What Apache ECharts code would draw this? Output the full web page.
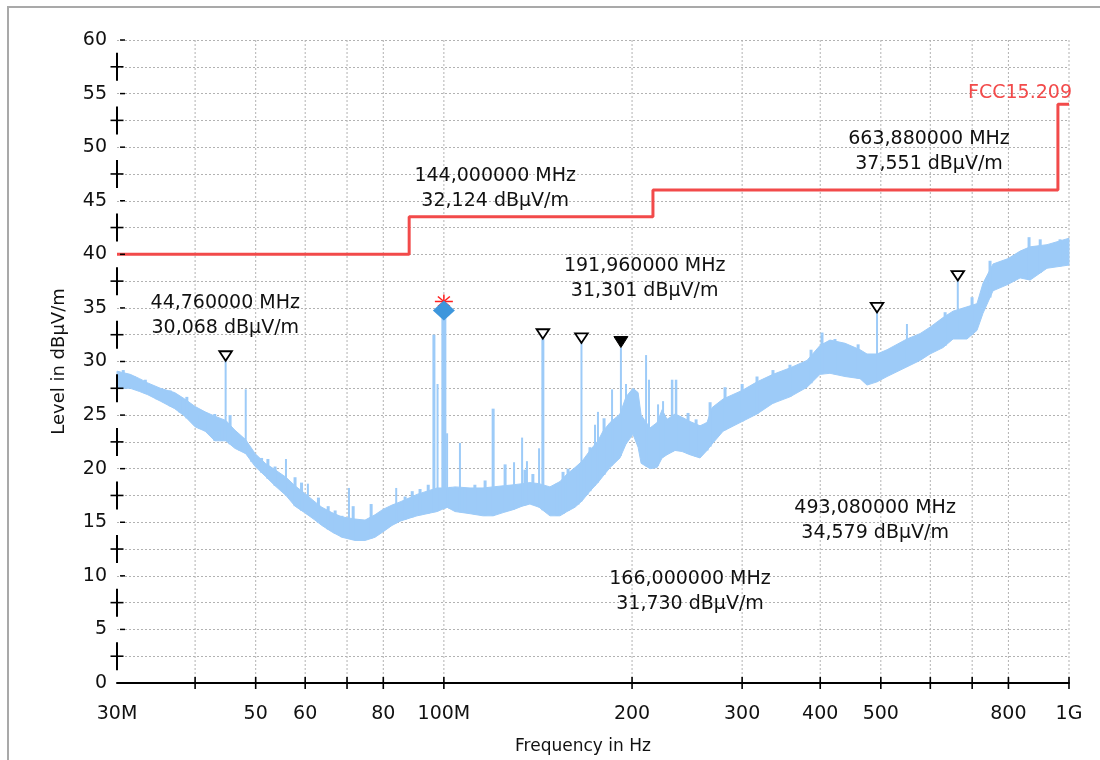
<!DOCTYPE html>
<html><head><meta charset="utf-8">
<script src="https://cdn.jsdelivr.net/npm/echarts@6/dist/echarts.min.js"></script>
<style>html,body{margin:0;padding:0;background:#fff}#c{width:1100px;height:760px}</style>
</head><body><div id="c"></div>
<script>
// ---------- data ----------
// noise band of the measured trace: frequency (MHz), typical top and bottom level (dBµV/m)
const traceFreq  = [30, 31.5, 32.6, 33.6, 35.2, 37.1, 38.5, 40.0, 41.5, 43.0, 44.8, 46.3, 48.2, 49.9, 51.8, 53.7, 55.9, 57.8, 60.2, 62.2, 63.8, 66.2, 68.7, 72.1, 74.8, 77.6, 79.9, 82.6, 85.1, 88.3, 90.6, 94.0, 97.5, 101.2, 104.2, 110.1, 115.5, 119.9, 124.4, 129.5, 133.4, 137.3, 142.0, 147.8, 153.4, 157.4, 162.1, 166.4, 171.3, 176.4, 179.7, 184.4, 191.3, 195.6, 200.7, 204.5, 206.8, 213.7, 219.3, 223.4, 227.5, 234.3, 240.5, 247.6, 256.9, 263.6, 268.6, 279.7, 300, 316.9, 336.1, 357.8, 381.0, 399.7, 414.6, 438.3, 463.2, 475.2, 493.1, 511.7, 550.5, 577.7, 599.3, 628.8, 652.5, 686.7, 712.5, 728.5, 755.9, 799.1, 835.2, 866.6, 922.2, 1000];
const traceUpper = [29.1, 28.8, 28.4, 28.0, 27.5, 27.1, 26.5, 25.8, 25.3, 24.9, 24.5, 23.6, 22.7, 21.4, 20.5, 19.9, 19.2, 18.4, 17.6, 16.9, 16.4, 15.9, 15.5, 15.3, 15.2, 15.7, 16.2, 16.6, 16.9, 17.3, 17.6, 17.9, 18.2, 18.2, 18.3, 18.2, 18.2, 18.3, 18.4, 18.5, 18.6, 18.7, 18.6, 18.3, 18.8, 19.5, 20.1, 20.7, 21.7, 22.6, 23.5, 24.3, 25.1, 26.7, 27.5, 27.1, 25.0, 23.8, 24.3, 25.5, 24.6, 25.1, 24.8, 24.4, 24.0, 24.3, 25.7, 26.5, 27.3, 28.1, 28.8, 29.4, 30.1, 31.5, 32.0, 31.7, 31.1, 30.7, 30.7, 31.1, 32.1, 32.6, 33.2, 34.1, 34.7, 35.1, 35.4, 37.3, 39.1, 39.6, 40.3, 40.7, 40.9, 41.5];
const traceLower = [27.5, 27.5, 27.2, 26.9, 26.3, 25.6, 24.9, 23.9, 23.5, 22.6, 22.6, 21.9, 21.4, 20.2, 19.3, 18.4, 17.5, 16.5, 15.8, 15.2, 14.7, 14.1, 13.6, 13.3, 13.3, 13.6, 14.1, 14.7, 15.1, 15.4, 15.6, 15.8, 16.0, 16.4, 16.0, 15.8, 15.6, 15.6, 15.9, 16.2, 16.5, 16.7, 16.4, 15.6, 15.6, 16.0, 16.4, 17.0, 17.9, 18.7, 19.3, 20.1, 21.0, 22.3, 23.2, 22.0, 20.5, 20.0, 20.1, 21.0, 21.3, 21.7, 21.6, 21.3, 21.0, 21.7, 22.3, 23.5, 24.4, 25.1, 26.1, 26.7, 27.6, 28.8, 28.9, 28.6, 28.4, 27.8, 28.1, 28.6, 29.5, 30.1, 30.7, 31.3, 32.1, 32.1, 32.9, 34.5, 36.6, 37.2, 37.8, 37.6, 38.7, 39.0];

// peaks standing out of the noise band: frequency (MHz), top level
const spikeFreq = [44.76, 48.2, 55.9, 60.6, 70.5, 83.9, 96.4, 97.7, 100.0, 101.2, 106.1, 119.9, 129.5, 133.4, 135.8, 142.0, 144.0, 166.0, 174.5, 176.4, 185.8, 191.96, 195.6, 210.6, 212.9, 220.1, 224.2, 231.8, 235.2, 493.08, 550.5, 663.88];
const spikeTop  = [30.068, 27.4, 20.9, 18.6, 18.2, 18.2, 32.5, 27.9, 34.75, 23.3, 22.4, 25.6, 20.6, 22.9, 20.7, 21.9, 32.124, 31.730, 24.1, 25.3, 27.4, 31.301, 27.9, 30.6, 28.3, 26.0, 26.3, 28.3, 28.3, 34.579, 33.5, 37.551];
// small noise peaks on the top edge of the band
const grassFreq = [30.7, 32.0, 33.3, 34.7, 36.5, 37.8, 38.8, 40.7, 41.5, 43.0, 44.1, 45.5, 47.2, 49.3, 51.1, 52.3, 53.7, 57.8, 59.2, 63.0, 65.3, 67.0, 68.7, 71.6, 76.5, 86.7, 89.0, 91.6, 94.4, 102.3, 108.1, 112.1, 116.4, 125.3, 134.8, 138.8, 151.7, 155.1, 158.0, 163.9, 169.4, 171.3, 180.4, 245.8, 253.2, 263.6, 266.6, 281.7, 300, 316.9, 336.1, 357.8, 386.7, 402.6, 422.3, 459.9, 633.6, 699.7, 747.6, 863.2, 899.4, 967.6];
const grassTop  = [29.2, 28.6, 28.3, 27.5, 27.3, 26.6, 26.7, 25.0, 25.1, 25.1, 23.9, 25.0, 22.7, 21.5, 21.0, 20.9, 20.2, 19.2, 18.7, 17.3, 16.5, 16.1, 15.6, 16.5, 16.7, 17.4, 17.9, 18.1, 18.5, 18.3, 18.2, 18.5, 18.9, 20.4, 19.9, 19.5, 18.6, 19.7, 20.0, 20.2, 21.1, 22.0, 24.7, 25.2, 24.6, 24.3, 26.2, 27.6, 27.9, 28.6, 29.2, 29.7, 31.1, 32.7, 32.1, 31.6, 34.6, 36.0, 39.4, 41.6, 41.4, 41.4];

// peak markers
const markerFreq   = [44.76, 144.0, 166.0, 191.96, 493.08, 663.88];
const markerLevel  = [30.068, 32.124, 31.730, 31.301, 34.579, 37.551];
const markerFilled = [false, false, false, true, false, false];
// where each marker's annotation text sits (frequency, level of block centre)
const noteFreq  = [44.7, 120.8, 247.6, 209.5, 489.6, 597.2];
const noteLevel = [34.3, 46.1, 8.55, 37.7, 15.2, 49.6];

// final measurement point
const finalFreq = [100.0];
const finalLevel = [34.75];
const flagLevel = [35.6];

// limit line FCC 15.209
const limitName  = 'FCC15.209';
const limitFreq  = [30, 88, 88, 216, 216, 960, 960, 1000];
const limitLevel = [40, 40, 43.5, 43.5, 46, 46, 54, 54];

// axes
const xTickValues  = [40, 50, 60, 70, 80, 100, 200, 300, 400, 500, 600, 700, 800, 1000];
const xLabelValues = [30, 50, 60, 80, 100, 200, 300, 400, 500, 800, 1000];
const xLabelTexts  = ['30M', '50', '60', '80', '100M', '200', '300', '400', '500', '800', '1G'];
const yMajorValues = [0, 5, 10, 15, 20, 25, 30, 35, 40, 45, 50, 55, 60];
const yMinorValues = [2.5, 7.5, 12.5, 17.5, 22.5, 27.5, 32.5, 37.5, 42.5, 47.5, 52.5, 57.5];

// ---------- styles ----------
const FONT = '"DejaVu Sans", "Liberation Sans", sans-serif';
const TRACE = '#9dcbf8';
const LIMIT = '#f24a4a';
const GRID = '#b2b2b2';
const TXT = '#111';
const spikeWidthFor = {100: 5, 96.4: 3, 119.9: 3, 144: 3, 231.8: 2.5, 235.2: 2.5};

const fmt = (v, d) => v.toFixed(d).replace('.', ',');
// bottom of the band at a frequency (drawing helper: peaks are drawn from here up)
function bandBottom(f) {
  for (let i = 1; i < traceFreq.length; i++) {
    if (f <= traceFreq[i]) {
      const a = Math.log(traceFreq[i - 1]), b = Math.log(traceFreq[i]);
      const t = (Math.log(f) - a) / (b - a);
      return traceLower[i - 1] + t * (traceLower[i] - traceLower[i - 1]);
    }
  }
  return traceLower[traceLower.length - 1];
}

const chart = echarts.init(document.getElementById('c'), null, {renderer: 'canvas'});

function peakSeries(freqs, tops, z, defWidth) {
  return {
    type: 'custom', coordinateSystem: 'cartesian2d', silent: true, z: z,
    data: freqs.map((f, i) => [f, tops[i]]), encode: {x: 0, y: 1},
    renderItem: (params, api) => {
      const f = api.value(0);
      const a = api.coord([f, bandBottom(f)]);
      const b = api.coord([f, api.value(1)]);
      return {type: 'line', shape: {x1: a[0], y1: a[1], x2: b[0], y2: b[1]},
        style: {stroke: TRACE, lineWidth: spikeWidthFor[f] || defWidth}};
    }
  };
}

const option = {
  animation: false,
  backgroundColor: '#fff',
  graphic: [{
    type: 'rect', shape: {x: 8, y: 7, width: 1300, height: 1000},
    style: {fill: 'none', stroke: '#a9a9a9', lineWidth: 2}, z: 0, silent: true
  }],
  grid: {left: 117, right: 31, top: 40, bottom: 71, containLabel: false},
  xAxis: {
    type: 'log', logBase: 10, min: 30, max: 1000,
    axisLine: {show: true, onZero: false, lineStyle: {color: '#000', width: 2}},
    axisTick: {show: false}, axisLabel: {show: false}, splitLine: {show: false},
    name: 'Frequency in Hz', nameLocation: 'middle', nameGap: 55,
    nameTextStyle: {fontSize: 17, color: TXT, fontFamily: FONT, padding: [0, 20, 0, 0]}
  },
  yAxis: {
    type: 'value', min: 0, max: 60, interval: 2.5,
    axisLine: {show: false}, axisTick: {show: false},
    axisLabel: {
      margin: 10, fontSize: 19, color: TXT, fontFamily: FONT,
      formatter: v => (yMajorValues.indexOf(v) >= 0 ? String(v) : '')
    },
    splitLine: {show: true, lineStyle: {color: GRID, width: 1, type: [2, 2]}},
    name: 'Level in dBµV/m', nameLocation: 'middle', nameGap: 49, nameRotate: 90,
    nameTextStyle: {fontSize: 18, color: TXT, fontFamily: FONT}
  },
  series: [
    // vertical dotted grid lines
    {
      type: 'custom', coordinateSystem: 'cartesian2d', silent: true, z: 1, clip: false,
      data: xTickValues.map(v => [v, 0]), encode: {x: 0, y: 1},
      renderItem: (params, api) => {
        const b = api.coord([api.value(0), 0]);
        const t = api.coord([api.value(0), 60]);
        return {type: 'line', shape: {x1: b[0], y1: t[1], x2: b[0], y2: b[1]},
          style: {stroke: GRID, lineWidth: 1, lineDash: [2, 2]}};
      }
    },
    // noise band of the trace
    {
      type: 'custom', coordinateSystem: 'cartesian2d', silent: true, z: 2,
      data: traceFreq.map((f, i) => [f, traceUpper[i], traceLower[i]]), encode: {x: 0, y: [1, 2]},
      renderItem: (params, api) => {
        if (params.dataIndex !== 0) return null;
        const pts = [];
        for (let i = 0; i < traceFreq.length; i++) pts.push(api.coord([traceFreq[i], traceUpper[i]]));
        for (let i = traceFreq.length - 1; i >= 0; i--) pts.push(api.coord([traceFreq[i], traceLower[i]]));
        return {type: 'polygon', shape: {points: pts}, style: {fill: TRACE, stroke: TRACE, lineWidth: 1}};
      }
    },
    peakSeries(grassFreq, grassTop, 2, 3),
    peakSeries(spikeFreq, spikeTop, 3, 2),
    // limit line
    {
      type: 'line', name: limitName, z: 4, symbol: 'none', silent: true,
      data: limitFreq.map((f, i) => [f, limitLevel[i]]),
      lineStyle: {color: LIMIT, width: 3}
    },
    // limit line name
    {
      type: 'custom', coordinateSystem: 'cartesian2d', silent: true, z: 4, clip: false,
      data: [[limitFreq[limitFreq.length - 1], limitLevel[limitLevel.length - 1]]], encode: {x: 0, y: 1},
      renderItem: (params, api) => {
        const p = api.coord([api.value(0), api.value(1)]);
        return {type: 'text', x: p[0] + 3, y: p[1] - 11,
          style: {text: limitName, fill: LIMIT, font: '19px ' + FONT, align: 'right', verticalAlign: 'middle'}};
      }
    },
    // y axis "+" marks and "-" marks
    {
      type: 'custom', coordinateSystem: 'cartesian2d', silent: true, z: 5, clip: false,
      data: yMinorValues.map(v => [30, v]), encode: {x: 0, y: 1},
      renderItem: (params, api) => {
        const p = api.coord([30, api.value(1)]);
        return {type: 'group', children: [
          {type: 'line', shape: {x1: p[0], y1: p[1] - 14, x2: p[0], y2: p[1] + 14}, style: {stroke: '#000', lineWidth: 2}},
          {type: 'line', shape: {x1: p[0] - 6.5, y1: p[1], x2: p[0] + 6.5, y2: p[1]}, style: {stroke: '#000', lineWidth: 1.6}}
        ]};
      }
    },
    {
      type: 'custom', coordinateSystem: 'cartesian2d', silent: true, z: 5, clip: false,
      data: yMajorValues.map(v => [30, v]), encode: {x: 0, y: 1},
      renderItem: (params, api) => {
        const p = api.coord([30, api.value(1)]);
        return {type: 'line', shape: {x1: p[0] + 3, y1: p[1], x2: p[0] + 8, y2: p[1]}, style: {stroke: '#000', lineWidth: 1.5}};
      }
    },
    // x axis ticks crossing the axis line
    {
      type: 'custom', coordinateSystem: 'cartesian2d', silent: true, z: 5, clip: false,
      data: xTickValues.map(v => [v, 0]), encode: {x: 0, y: 1},
      renderItem: (params, api) => {
        const p = api.coord([api.value(0), 0]);
        return {type: 'line', shape: {x1: p[0], y1: p[1] - 6, x2: p[0], y2: p[1] + 6}, style: {stroke: '#000', lineWidth: 1.6}};
      }
    },
    // x axis labels
    {
      type: 'custom', coordinateSystem: 'cartesian2d', silent: true, z: 5, clip: false,
      data: xLabelValues.map(v => [v, 0]), encode: {x: 0, y: 1},
      renderItem: (params, api) => {
        const p = api.coord([api.value(0), 0]);
        return {type: 'text', x: p[0], y: p[1] + 31,
          style: {text: xLabelTexts[params.dataIndex], fill: TXT, font: '19px ' + FONT, align: 'center', verticalAlign: 'middle'}};
      }
    },
    // marker annotations
    {
      type: 'custom', coordinateSystem: 'cartesian2d', silent: true, z: 5, clip: false,
      data: noteFreq.map((f, i) => [f, noteLevel[i]]), encode: {x: 0, y: 1},
      renderItem: (params, api) => {
        const i = params.dataIndex;
        const p = api.coord([api.value(0), api.value(1)]);
        return {type: 'text', x: p[0], y: p[1],
          style: {text: fmt(markerFreq[i], 6) + ' MHz\n' + fmt(markerLevel[i], 3) + ' dBµV/m',
            fill: TXT, font: '19px ' + FONT, align: 'center', verticalAlign: 'middle', lineHeight: 25}};
      }
    },
    // peak markers (triangles)
    {
      type: 'custom', coordinateSystem: 'cartesian2d', silent: true, z: 6, clip: false,
      data: markerFreq.map((f, i) => [f, markerLevel[i]]), encode: {x: 0, y: 1},
      renderItem: (params, api) => {
        const filled = markerFilled[params.dataIndex];
        const p = api.coord([api.value(0), api.value(1)]);
        const hw = filled ? 7 : 6.3, h = filled ? 11 : 9.5;
        return {type: 'polygon', shape: {points: [[p[0], p[1]], [p[0] - hw, p[1] - h], [p[0] + hw, p[1] - h]]},
          style: {fill: filled ? '#000' : '#fff', stroke: '#000', lineWidth: filled ? 1 : 1.8}};
      }
    },
    // final measurement: red flag + blue diamond
    {
      type: 'custom', coordinateSystem: 'cartesian2d', silent: true, z: 6, clip: false,
      data: finalFreq.map((f, i) => [f, finalLevel[i], flagLevel[i]]), encode: {x: 0, y: [1, 2]},
      renderItem: (params, api) => {
        const d = api.coord([api.value(0), api.value(1)]);
        const s = api.coord([api.value(0), api.value(2)]);
        const red = {stroke: '#ff1f1f', lineWidth: 1.5};
        return {type: 'group', children: [
          {type: 'line', shape: {x1: s[0] - 9, y1: s[1], x2: s[0] + 9, y2: s[1]}, style: red},
          {type: 'line', shape: {x1: s[0], y1: s[1] - 7, x2: s[0], y2: s[1] + 7}, style: red},
          {type: 'line', shape: {x1: s[0] - 6, y1: s[1] - 5, x2: s[0] + 6, y2: s[1] + 5}, style: red},
          {type: 'line', shape: {x1: s[0] + 6, y1: s[1] - 5, x2: s[0] - 6, y2: s[1] + 5}, style: red},
          {type: 'polygon', shape: {points: [[d[0], d[1] - 10], [d[0] + 11, d[1]], [d[0], d[1] + 10], [d[0] - 11, d[1]]]},
            style: {fill: '#3d96dc'}}
        ]};
      }
    }
  ]
};
chart.setOption(option);
</script>
</body></html>
